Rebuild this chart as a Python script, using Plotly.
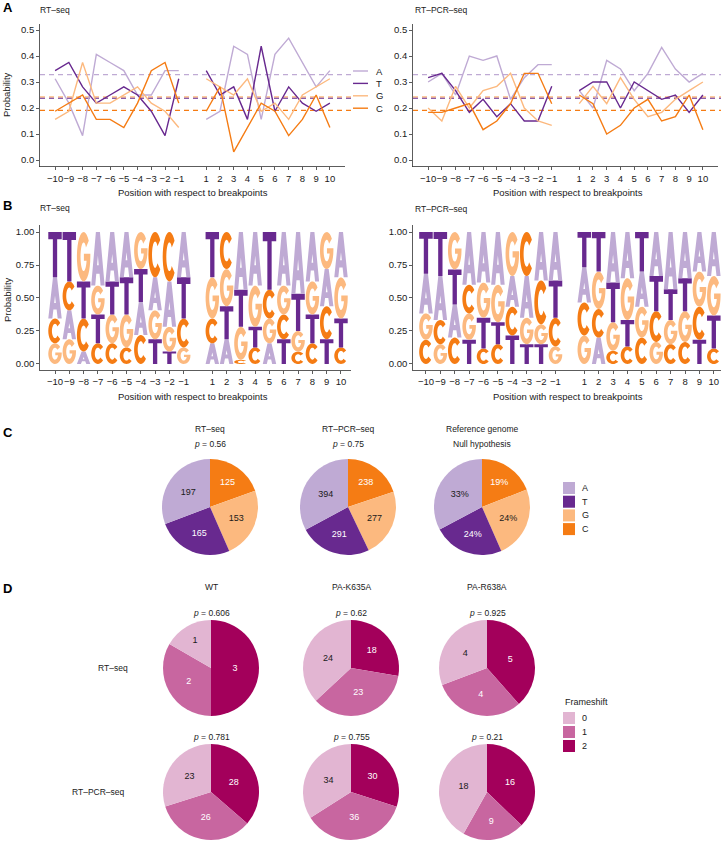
import math
import plotly.graph_objects as go

W, H = 721, 841
FONT = "Liberation Sans, Arial, Helvetica, sans-serif"
TXT = "#1a1a1a"

# ---------------- data ----------------
positions = list(range(-10, 0)) + list(range(1, 11))
tick_text = [("\u2212%d" % -p) if p < 0 else str(p) for p in positions]
bases = ["A", "T", "G", "C"]
base_colors = ["#bfaad4", "#68298f", "#fcb97f", "#f57c14"]

# nucleotide counts per position (RT-seq: 32 per position)
rt_A = [10, 7, 3, 13, 12, 11, 8, 8, 11, 11, 5, 6, 14, 13, 5, 13, 15, 12, 9, 11]
rt_T = [11, 12, 9, 7, 8, 9, 8, 6, 3, 10, 11, 8, 9, 5, 14, 6, 9, 7, 6, 7]
rt_G = [5, 6, 12, 7, 7, 8, 9, 7, 6, 4, 10, 9, 8, 10, 6, 7, 5, 8, 9, 10]
rt_C = [6, 7, 8, 5, 5, 4, 7, 11, 12, 7, 6, 9, 1, 4, 7, 6, 3, 5, 8, 4]
# RT-PCR-seq: 60 per position
pcr_A = [18, 20, 15, 24, 23, 24, 14, 19, 22, 22, 16, 12, 23, 21, 16, 20, 26, 21, 18, 20]
pcr_T = [19, 20, 16, 11, 14, 10, 13, 9, 9, 17, 16, 18, 18, 12, 18, 16, 14, 15, 11, 15]
pcr_G = [12, 9, 17, 12, 16, 17, 20, 12, 9, 8, 13, 17, 13, 19, 14, 10, 11, 14, 16, 18]
pcr_C = [11, 11, 12, 13, 7, 9, 13, 20, 20, 13, 15, 13, 6, 8, 12, 14, 9, 10, 15, 7]

# reference genome composition (null hypothesis), order A T G C
ref_probs = [0.328, 0.238, 0.243, 0.191]

# panel C totals
c_titles = ["RT\u2013seq", "RT\u2013PCR\u2013seq", "Reference genome"]
c_subtitles = ["<i>p</i> = 0.56", "<i>p</i> = 0.75", "Null hypothesis"]
rt_totals = [197, 165, 153, 125]
pcr_totals = [394, 291, 277, 238]

# panel D frameshift
fs_labels = ["0", "1", "2"]
fs_colors = ["#e2b5d2", "#c866a0", "#a3005b"]
fs_groups = ["WT", "PA-K635A", "PA-R638A"]
fs_rows = ["RT\u2013seq", "RT\u2013PCR\u2013seq"]
fs_rt = [[1, 2, 3], [24, 23, 18], [4, 4, 5]]
fs_pcr = [[23, 26, 28], [34, 36, 30], [18, 9, 16]]
fs_p_rt = ["0.606", "0.62", "0.925"]
fs_p_pcr = ["0.781", "0.755", "0.21"]

rt_counts = {"A": rt_A, "T": rt_T, "G": rt_G, "C": rt_C}
pcr_counts = {"A": pcr_A, "T": pcr_T, "G": pcr_G, "C": pcr_C}
color_of = dict(zip(bases, base_colors))


def X(px):
    return px / W


def Y(py):
    return 1 - py / H


fig = go.Figure()
shapes = []
ann = []


def text(t, xpx, ypx, size=9, xanchor="center", yanchor="middle", angle=0, color=TXT):
    ann.append(dict(text=t, x=X(xpx), y=Y(ypx), xref="paper", yref="paper", showarrow=False,
                    xanchor=xanchor, yanchor=yanchor, textangle=angle,
                    font=dict(size=size, color=color, family=FONT)))


def probs(counts):
    tot = [sum(counts[b][i] for b in bases) for i in range(len(positions))]
    return {b: [counts[b][i] / tot[i] for i in range(len(positions))] for b in bases}


# ---------------- panel A: line plots ----------------
for xa, ya, counts in [("x", "y", rt_counts), ("x2", "y2", pcr_counts)]:
    pr = probs(counts)
    for b in bases:
        xs = positions[:10] + [None] + positions[10:]
        ys = pr[b][:10] + [None] + pr[b][10:]
        fig.add_trace(go.Scatter(x=xs, y=ys, mode="lines", name=b, showlegend=False,
                                 line=dict(color=color_of[b], width=1.4), connectgaps=False,
                                 xaxis=xa, yaxis=ya, hoverinfo="skip"))
    for b, rp in zip(bases, ref_probs):
        shapes.append(dict(type="line", xref=xa + " domain", yref=ya, x0=0, x1=1.03, y0=rp, y1=rp,
                           line=dict(color=color_of[b], width=1.3, dash="5px,4px"), layer="below"))

# legend for panel A (line keys)
for i, b in enumerate(bases):
    yy = 71 + 12.4 * i
    shapes.append(dict(type="line", xref="paper", yref="paper", x0=X(353), x1=X(368), y0=Y(yy), y1=Y(yy),
                       line=dict(color=color_of[b], width=1.4)))
    text(b, 374, yy, size=9.5, xanchor="left")


# ---------------- panel B: sequence logos ----------------
def arc(rx, ry, a0, a1, n=28):
    pts = []
    for i in range(n + 1):
        t = math.radians(a0 + (a1 - a0) * i / n)
        pts.append((0.5 + rx * math.cos(t), 0.5 + ry * math.sin(t)))
    return pts


GLYPHS = {
    "T": [[(0, 1), (1, 1), (1, 0.84), (0.66, 0.84), (0.66, 0), (0.34, 0), (0.34, 0.84), (0, 0.84)]],
    "A": [[(0, 0), (0.35, 1), (0.65, 1), (1, 0), (0.7, 0), (0.62, 0.22), (0.38, 0.22), (0.3, 0)],
          [(0.437, 0.38), (0.5, 0.556), (0.563, 0.38)]],
    "C": [arc(0.5, 0.5, 40, 320) + arc(0.23, 0.29, 320, 40)],
    "G": [arc(0.5, 0.5, 40, 360) + [(1.0, 0.56), (0.52, 0.56), (0.52, 0.42)] + arc(0.23, 0.29, 344, 40)],
}


def glyph_path(letter, xc, y0, h, w=0.94):
    parts = []
    for poly in GLYPHS[letter]:
        pts = [(xc + (gx - 0.5) * w, y0 + gy * h) for gx, gy in poly]
        parts.append("M" + "L".join("%.4f,%.5f" % p for p in pts) + "Z")
    return "".join(parts)


for xa, ya, counts in [("x3", "y3", rt_counts), ("x4", "y4", pcr_counts)]:
    pr = probs(counts)
    fig.add_trace(go.Scatter(x=positions, y=[0] * len(positions), mode="markers",
                             marker=dict(opacity=0), showlegend=False, hoverinfo="skip",
                             xaxis=xa, yaxis=ya))
    for i, pos in enumerate(positions):
        order = sorted(bases, key=lambda b: pr[b][i])
        y0 = 0.0
        for b in order:
            h = pr[b][i]
            if h > 0:
                shapes.append(dict(type="path", xref=xa, yref=ya, path=glyph_path(b, pos, y0, h),
                                   fillcolor=color_of[b], line=dict(width=0), layer="above"))
            y0 += h

# ---------------- panel C: pies ----------------
# slices run counter-clockwise from 12 o'clock in the order A, T, G, C;
# drawn clockwise with reversed order in plotly.
c_values = [rt_totals, pcr_totals, ref_probs]
c_centers = [210, 348, 482]
C_CY, R = 507, 48
dark_light_C = [TXT, "white", TXT, "white"]
for k, (vals, cx) in enumerate(zip(c_values, c_centers)):
    tmpl = "%{percent:.0%}" if k == 2 else "%{value}"
    fig.add_trace(go.Pie(values=vals[::-1], labels=bases[::-1],
                         marker=dict(colors=base_colors[::-1], line=dict(width=0)),
                         sort=False, direction="clockwise", rotation=0,
                         texttemplate=tmpl, textposition="inside", insidetextorientation="horizontal",
                         insidetextfont=dict(color=dark_light_C[::-1], size=9, family=FONT),
                         domain=dict(x=[X(cx - R), X(cx + R)], y=[Y(C_CY + R), Y(C_CY - R)]),
                         showlegend=False, hoverinfo="skip"))
    text(c_titles[k], cx, 429, size=8.5)
    text(c_subtitles[k], cx, 444, size=8.5)

# legend for panel C
for i, b in enumerate(bases):
    yy = 488 + 13.7 * i
    shapes.append(dict(type="rect", xref="paper", yref="paper", x0=X(563), x1=X(575), y0=Y(yy + 6), y1=Y(yy - 6),
                       fillcolor=color_of[b], line=dict(width=0)))
    text(b, 580, yy, size=9, xanchor="left")

# ---------------- panel D: frameshift pies ----------------
d_centers = [211, 351, 487]
d_rows_cy = [668, 792]
dark_light_D = [TXT, "white", "white"]
for r, (rowdata, pvals, cy) in enumerate([(fs_rt, fs_p_rt, d_rows_cy[0]), (fs_pcr, fs_p_pcr, d_rows_cy[1])]):
    for g, cx in enumerate(d_centers):
        fig.add_trace(go.Pie(values=rowdata[g][::-1], labels=fs_labels[::-1],
                             marker=dict(colors=fs_colors[::-1], line=dict(width=0)),
                             sort=False, direction="clockwise", rotation=0,
                             textinfo="value", textposition="inside", insidetextorientation="horizontal",
                             insidetextfont=dict(color=dark_light_D[::-1], size=9, family=FONT),
                             domain=dict(x=[X(cx - R), X(cx + R)], y=[Y(cy + R), Y(cy - R)]),
                             showlegend=False, hoverinfo="skip"))
        text("<i>p</i> = " + pvals[g], cx, cy - 55, size=8.5)
for g, cx in enumerate(d_centers):
    text(fs_groups[g], cx, 587, size=8.5)
text(fs_rows[0], 130, d_rows_cy[0], size=8.5, xanchor="right")
text(fs_rows[1], 127, d_rows_cy[1], size=8.5, xanchor="right")

# legend for panel D
text("Frameshift", 563, 702, size=9, xanchor="left")
for i, lab in enumerate(fs_labels):
    yy = 718 + 14 * i
    shapes.append(dict(type="rect", xref="paper", yref="paper", x0=X(563), x1=X(575), y0=Y(yy + 6), y1=Y(yy - 6),
                       fillcolor=fs_colors[i], line=dict(width=0)))
    text(lab, 580, yy, size=9, xanchor="left")

# ---------------- text ----------------
for letter, ypx in [("A", 8), ("B", 206), ("C", 433), ("D", 588)]:
    text("<b>%s</b>" % letter, 1, ypx, size=13, xanchor="left", color="black")
text("RT\u2013seq", 38, 10, size=8.5, xanchor="left")
text("RT\u2013PCR\u2013seq", 413, 10, size=8.5, xanchor="left")
text("RT\u2013seq", 38, 208, size=8.5, xanchor="left")
text("RT\u2013PCR\u2013seq", 413, 209, size=8.5, xanchor="left")
xtitle = "Position with respect to breakpoints"
text(xtitle, 193, 192, size=9.5)
text(xtitle, 568, 192, size=9.5)
text(xtitle, 193, 397, size=9.5)
text(xtitle, 568, 397, size=9.5)
text("Probability", 7, 95, size=9.5, angle=-90)
text("Probability", 7, 300, size=9.5, angle=-90)


# ---------------- axes ----------------
def xaxis(d0, d1, rng, anchor):
    return dict(domain=[X(d0), X(d1)], range=rng, anchor=anchor, tickmode="array",
                tickvals=positions, ticktext=tick_text, tickangle=0, showline=True, linecolor="#333",
                linewidth=0.8, ticks="outside", ticklen=3, tickwidth=0.8, tickcolor="#333",
                showgrid=False, zeroline=False, fixedrange=True,
                tickfont=dict(size=9.5, color=TXT, family=FONT))


def yaxis(p0, p1, rng, anchor, vals, fmt):
    return dict(domain=[Y(p1), Y(p0)], range=rng, anchor=anchor, tickmode="array",
                tickvals=vals, ticktext=[fmt % v for v in vals], showline=True, linecolor="#333",
                linewidth=0.8, ticks="outside", ticklen=3, tickwidth=0.8, tickcolor="#333",
                showgrid=False, zeroline=False, fixedrange=True,
                tickfont=dict(size=9.5, color=TXT, family=FONT))


a_ticks = [0, 0.1, 0.2, 0.3, 0.4, 0.5]
b_ticks = [0, 0.25, 0.5, 0.75, 1.0]

fig.update_layout(
    width=W, height=H, margin=dict(l=0, r=0, t=0, b=0),
    paper_bgcolor="white", plot_bgcolor="white",
    font=dict(family=FONT, size=9.5, color=TXT),
    xaxis=xaxis(40, 345, [-11.1, 11.1], "y"),
    yaxis=yaxis(23.5, 166.5, [-0.025, 0.525], "x", a_ticks, "%.1f"),
    xaxis2=xaxis(413, 718, [-11.1, 11.1], "y2"),
    yaxis2=yaxis(23.5, 166.5, [-0.025, 0.525], "x2", a_ticks, "%.1f"),
    xaxis3=xaxis(40, 351, [-11.05, 10.7], "y3"),
    yaxis3=yaxis(225, 370, [-0.0455, 1.053], "x3", b_ticks, "%.2f"),
    xaxis4=xaxis(413, 721, [-10.9, 10.5], "y4"),
    yaxis4=yaxis(225, 370, [-0.0455, 1.053], "x4", b_ticks, "%.2f"),
    shapes=shapes, annotations=ann, showlegend=False, hovermode=False,
)

fig.write_html("out.html", config={"displayModeBar": False, "staticPlot": True},
               post_script="document.body.style.margin='0px';document.body.style.padding='0px';")
